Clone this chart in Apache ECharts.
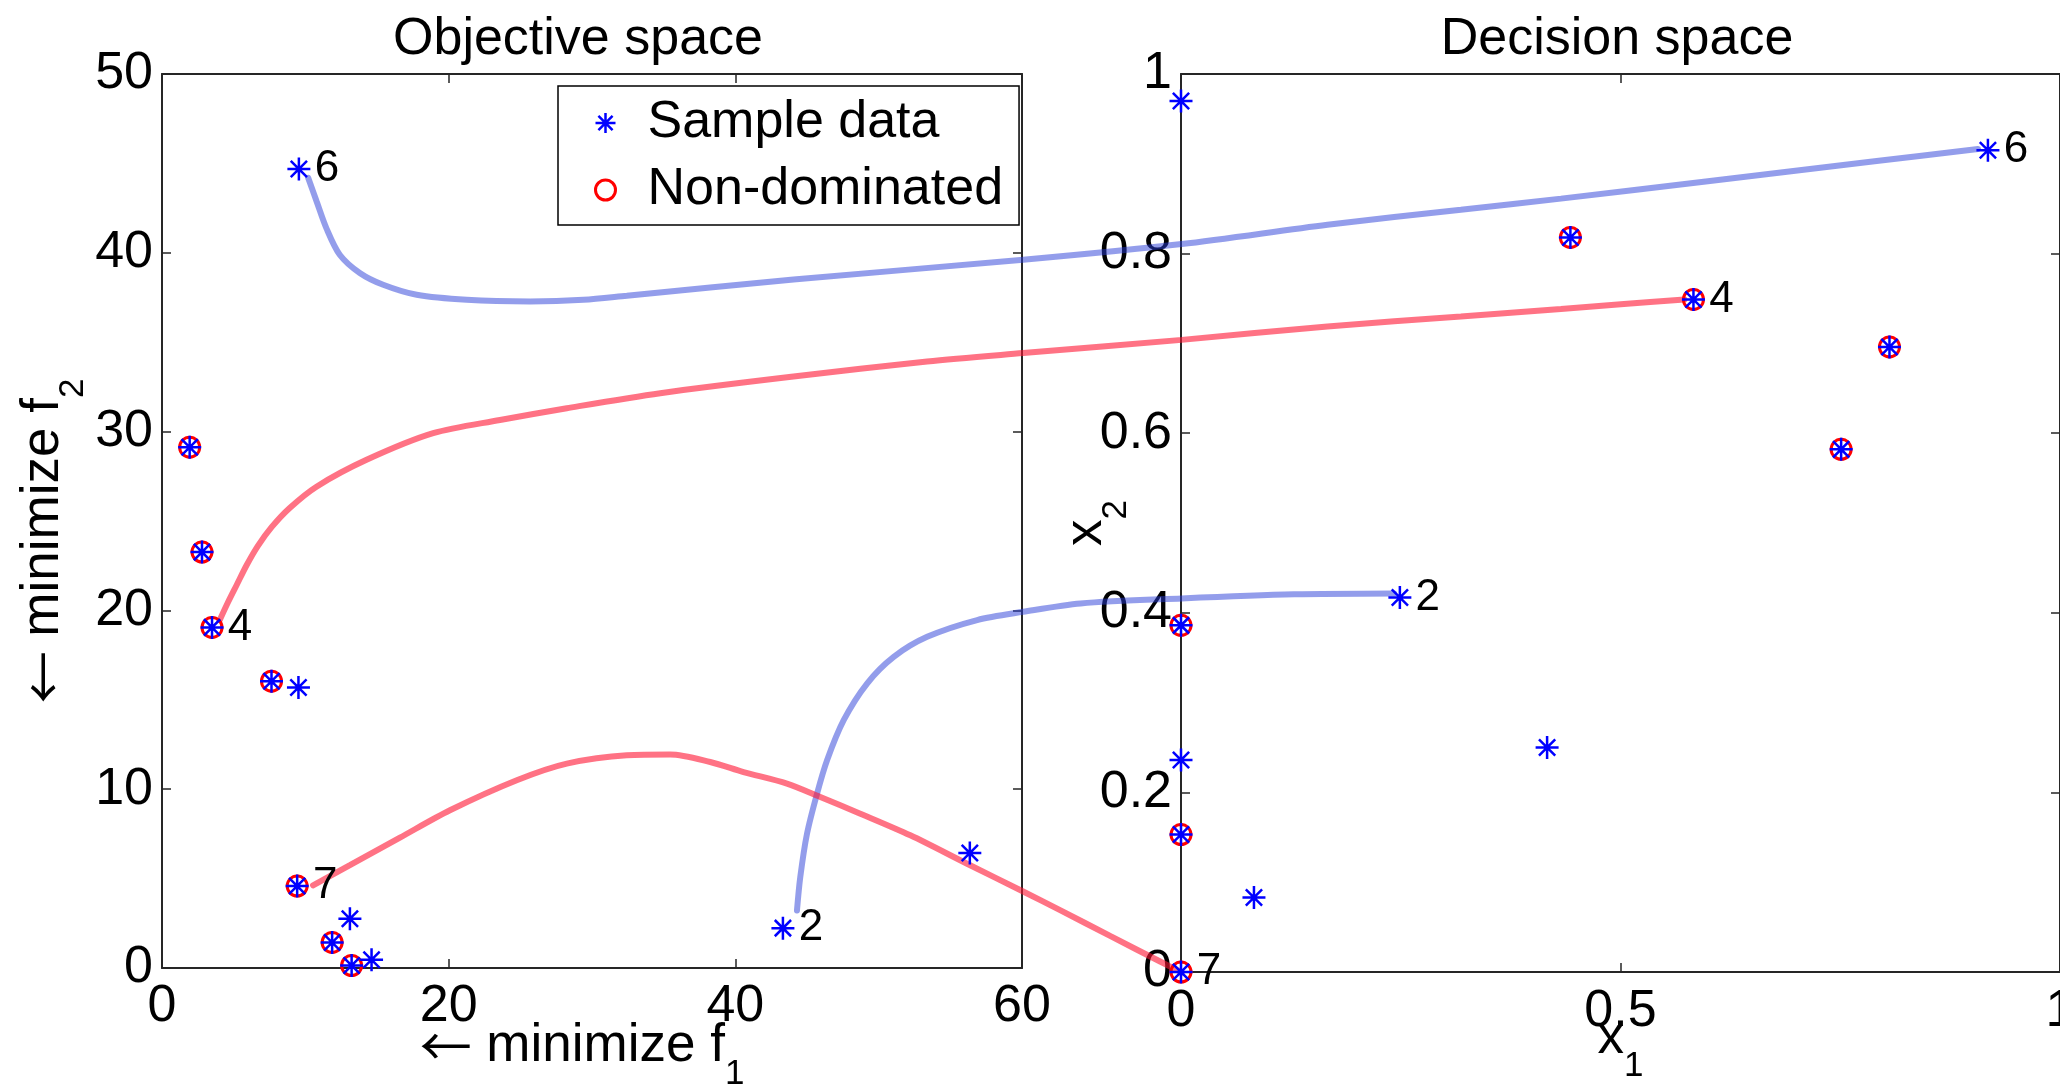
<!DOCTYPE html>
<html>
<head>
<meta charset="utf-8">
<title>Objective space / Decision space</title>
<script src="https://cdn.jsdelivr.net/npm/echarts@6/dist/echarts.min.js"></script>
<style>
  html, body { margin: 0; padding: 0; background: #fff; }
  #chart { width: 2060px; height: 1087px; }
</style>
</head>
<body>
<div id="chart"></div>
<script type="text/javascript">
"use strict";

// objective space points (f1, f2)
var objSample = [
  [9.55, 44.69], [1.93, 29.13], [2.79, 23.26], [3.49, 19.05], [7.64, 16.04],
  [9.52, 15.69], [9.43, 4.58], [13.11, 2.75], [11.87, 1.43], [13.23, 0.14],
  [14.62, 0.46], [43.32, 2.23], [56.36, 6.43]
];
var objSampleTags = ['6', '', '', '4', '', '', '7', '', '', '', '', '2', ''];
var objFront = [
  [1.93, 29.13], [2.79, 23.26], [3.49, 19.05], [7.64, 16.04],
  [9.43, 4.58], [11.87, 1.43], [13.23, 0.14]
];

// decision space points (x1, x2)
var decSample = [
  [0, 0.970], [0.918, 0.915], [0.443, 0.818], [0.583, 0.749], [0.806, 0.696],
  [0.751, 0.582], [0.249, 0.417], [0, 0.386], [0.4165, 0.250], [0, 0.236],
  [0, 0.153], [0.083, 0.083], [0, 0]
];
var decSampleTags = ['', '6', '', '4', '', '', '2', '', '', '', '', '', '7'];
var decFront = [
  [0.443, 0.818], [0.583, 0.749], [0.806, 0.696], [0.751, 0.582],
  [0, 0.386], [0, 0.153], [0, 0]
];

// connector paths, in objective-space units (they run on past f1 = 60 into the decision panel)
var path6 = [
  [10.20, 44.19], [10.78, 42.89], [11.48, 41.35], [12.40, 39.89], [13.80, 38.87],
  [15.43, 38.21], [17.77, 37.65], [21.26, 37.37], [25.68, 37.28], [29.40, 37.37],
  [32.43, 37.60], [44.06, 38.51], [60.08, 39.61], [71.14, 40.49], [81.31, 41.57],
  [90.62, 42.41], [97.60, 43.03], [107.85, 44.00], [119.48, 45.12], [126.70, 45.81]
];
var path4 = [
  [4.03, 19.46], [4.58, 20.41], [5.21, 21.42], [5.91, 22.54], [6.68, 23.60],
  [7.66, 24.67], [8.91, 25.73], [10.78, 26.92], [14.27, 28.42], [18.92, 29.91],
  [23.58, 30.65], [28.24, 31.31], [34.76, 32.15], [44.06, 33.08], [53.38, 33.92],
  [60.08, 34.39], [71.14, 35.13], [81.31, 35.88], [90.62, 36.44], [97.60, 36.86],
  [102.00, 37.13], [106.22, 37.39]
];
var path2 = [
  [44.30, 3.22], [44.53, 5.08], [45.00, 7.51], [45.70, 9.75], [46.40, 11.62],
  [47.56, 13.86], [49.19, 15.91], [51.05, 17.40], [53.38, 18.52], [56.87, 19.46],
  [60.08, 19.92], [64.09, 20.39], [71.14, 20.67], [78.98, 20.90], [85.96, 20.95]
];
var path7 = [
  [10.54, 4.62], [13.11, 5.75], [16.60, 7.29], [20.09, 8.82], [24.75, 10.50],
  [28.24, 11.43], [32.43, 11.90], [35.45, 11.94], [38.25, 11.52], [40.57, 10.96],
  [43.60, 10.31], [45.93, 9.56], [48.72, 8.63], [52.21, 7.42], [56.17, 5.83],
  [60.08, 4.28], [62.69, 3.22], [66.18, 1.78], [69.67, 0.35], [71.14, -0.24]
];

var FONT = "'Liberation Sans', Arial, Helvetica, sans-serif";
var ARROW_FONT = "'Noto Sans CJK SC', 'DejaVu Sans', sans-serif";
var STAR = 'path://M0,-10L0,10M-10,0L10,0M-7.07,-7.07L7.07,7.07M-7.07,7.07L7.07,-7.07';
var BLUE = '#0000ff';
var RED = '#ff0000';
var AXIS = '#262626';

// panel frames (px)
var OBJ = { left: 162, top: 74, width: 860, height: 894 };
var DEC = { left: 1181, top: 74, width: 879, height: 898 };
// the connector frame shares the objective scale but reaches the right edge
var LINK_W = 2060 - OBJ.left;
var LINK_XMAX = 60 * LINK_W / OBJ.width;
var LINK_YMIN = -2;
var LINK_H = OBJ.height * (50 - LINK_YMIN) / 50;

var tagged = function(points, tags) {
  return points.map(function(p, i) {
    var item = { value: p };
    if (tags[i]) {
      item.label = { show: true, formatter: tags[i] };
    }
    return item;
  });
};

var nameRich = function(shift, lineH) {
  return {
    a: { fontSize: 52, lineHeight: 51, verticalAlign: 'top', color: '#000', fontFamily: ARROW_FONT },
    m: { fontSize: 53, lineHeight: 51, verticalAlign: 'top', color: '#000', fontFamily: FONT },
    s: { fontSize: 35, lineHeight: lineH, verticalAlign: 'bottom', color: '#000', fontFamily: FONT,
         padding: [0, shift, 0, 0] }
  };
};

var boxAxis = function(grid, pos, min, max, step) {
  return {
    type: 'value', gridIndex: grid, position: pos, min: min, max: max, interval: step,
    axisLine: { show: true, onZero: false, lineStyle: { color: AXIS, width: 2 } },
    axisTick: { show: true, inside: true, length: 9, lineStyle: { color: AXIS, width: 1.5 } },
    axisLabel: { show: false },
    splitLine: { show: false }
  };
};

var mainAxis = function(grid, pos, min, max, step, margin, name, gap, rich) {
  var axis = boxAxis(grid, pos, min, max, step);
  axis.axisLabel = { show: true, margin: margin, fontSize: 52, color: '#000', fontFamily: FONT };
  axis.name = name;
  axis.nameLocation = 'middle';
  axis.nameGap = gap;
  axis.nameMoveOverlap = false;
  axis.nameTextStyle = { rich: rich };
  return axis;
};

var hiddenAxis = function(min, max) {
  return { type: 'value', gridIndex: 2, min: min, max: max, show: false, splitLine: { show: false } };
};

var tagLabel = { position: 'right', distance: 3, fontSize: 44, color: '#000', fontFamily: FONT };

var starSeries = function(name, xi, yi, data) {
  return {
    name: name, type: 'scatter', xAxisIndex: xi, yAxisIndex: yi, z: 4,
    symbol: STAR, symbolSize: 23, symbolKeepAspect: true,
    itemStyle: { color: BLUE, borderColor: BLUE, borderWidth: 2.5, opacity: 1 },
    label: tagLabel,
    data: data
  };
};

var circleSeries = function(name, xi, yi, data) {
  return {
    name: name, type: 'scatter', xAxisIndex: xi, yAxisIndex: yi, z: 3,
    symbol: 'circle', symbolSize: 20,
    itemStyle: { color: 'rgba(255,255,255,0)', borderColor: RED, borderWidth: 3, opacity: 1 },
    data: data
  };
};

var pathSeries = function(data, color) {
  return {
    type: 'line', xAxisIndex: 4, yAxisIndex: 4, z: 2, clip: false,
    showSymbol: false, smooth: 0.3, silent: true,
    lineStyle: { color: color, width: 6, cap: 'round' },
    data: data
  };
};

var option = {
  backgroundColor: '#fff',
  animation: false,
  title: [
    { text: 'Objective space', left: 578, top: 14, textAlign: 'center', padding: 0,
      textStyle: { fontSize: 52, fontWeight: 'normal', color: '#000', fontFamily: FONT } },
    { text: 'Decision space', left: 1617, top: 14, textAlign: 'center', padding: 0,
      textStyle: { fontSize: 52, fontWeight: 'normal', color: '#000', fontFamily: FONT } }
  ],
  legend: {
    orient: 'vertical', left: 558, top: 86,
    padding: [11, 16, 9, 36], itemGap: 15,
    itemWidth: 74, itemHeight: 20,
    backgroundColor: '#fff', borderColor: '#000', borderWidth: 1.5, borderRadius: 0,
    textStyle: { fontSize: 52, lineHeight: 51, color: '#000', fontFamily: FONT },
    data: [
      { name: 'Sample data', itemStyle: { borderWidth: 2.5 } },
      { name: 'Non-dominated', itemStyle: { borderWidth: 3 } }
    ]
  },
  grid: [
    { left: OBJ.left, top: OBJ.top, width: OBJ.width, height: OBJ.height, outerBoundsMode: 'none', containLabel: false },
    { left: DEC.left, top: DEC.top, width: DEC.width, height: DEC.height, outerBoundsMode: 'none', containLabel: false },
    { left: OBJ.left, top: OBJ.top, width: LINK_W, height: LINK_H, outerBoundsMode: 'none', containLabel: false }
  ],
  xAxis: [
    mainAxis(0, 'bottom', 0, 60, 20, 13, '{a|\u2190}{m| minimize f}{s|1}', 52, nameRich(20, 72)),
    boxAxis(0, 'top', 0, 60, 20),
    mainAxis(1, 'bottom', 0, 1, 0.5, 14, '{m|x}{s|1}', 40, nameRich(0, 72)),
    boxAxis(1, 'top', 0, 1, 0.5),
    hiddenAxis(0, LINK_XMAX)
  ],
  yAxis: [
    mainAxis(0, 'left', 0, 50, 10, 9, '{a|\u2190}{m| minimize f}{s|2}', 71, nameRich(40, 74)),
    boxAxis(0, 'right', 0, 50, 10),
    mainAxis(1, 'left', 0, 1, 0.2, 9, '{m|x}{s|2}', 47, nameRich(0, 74)),
    boxAxis(1, 'right', 0, 1, 0.2),
    hiddenAxis(LINK_YMIN, 50)
  ],
  series: [
    pathSeries(path6, 'rgba(40,60,215,0.5)'),
    pathSeries(path4, 'rgba(255,20,50,0.6)'),
    pathSeries(path2, 'rgba(40,60,215,0.5)'),
    pathSeries(path7, 'rgba(255,20,50,0.6)'),
    circleSeries('Non-dominated', 0, 0, objFront),
    starSeries('Sample data', 0, 0, tagged(objSample, objSampleTags)),
    circleSeries('Non-dominated', 2, 2, decFront),
    starSeries('Sample data', 2, 2, tagged(decSample, decSampleTags))
  ]
};

var chart = echarts.init(document.getElementById('chart'));
chart.setOption(option);
</script>
</body>
</html>
